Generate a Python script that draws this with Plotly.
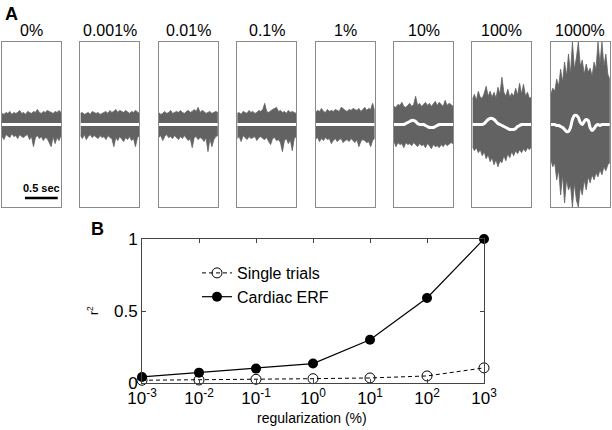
import plotly.graph_objects as go

# ---------------- data ----------------
panel_labels = ["0%", "0.001%", "0.01%", "0.1%", "1%", "10%", "100%", "1000%"]

sample_times = [0.0, 0.03, 0.06, 0.09, 0.12, 0.15, 0.18, 0.21, 0.24, 0.27, 0.30,
                0.33, 0.36, 0.39, 0.42, 0.45, 0.48, 0.51, 0.54, 0.57, 0.60,
                0.63, 0.66, 0.69, 0.72, 0.75, 0.78, 0.81, 0.84, 0.87, 0.90]

# upper / lower envelopes of single-trial traces
upper_env = [
    [11, 10, 12, 11, 13, 10, 12, 11, 12, 14, 11, 12, 10, 13, 12, 11, 13, 12, 15, 12, 11, 13, 12, 14, 13, 12, 11, 13, 12, 14, 12],
    [11, 12, 10, 11, 12, 10, 13, 12, 11, 12, 10, 11, 12, 13, 11, 14, 12, 13, 15, 12, 14, 13, 12, 14, 12, 11, 13, 12, 14, 12, 11],
    [12, 10, 11, 13, 11, 12, 14, 11, 12, 13, 12, 14, 12, 11, 13, 14, 12, 13, 15, 13, 17, 12, 14, 13, 11, 12, 13, 11, 12, 13, 12],
    [11, 12, 10, 13, 12, 11, 14, 12, 13, 11, 12, 14, 13, 15, 21, 13, 12, 14, 15, 16, 17, 13, 14, 12, 13, 11, 14, 12, 13, 12, 11],
    [12, 14, 13, 16, 13, 12, 15, 13, 14, 13, 15, 14, 13, 17, 16, 14, 13, 15, 14, 16, 15, 14, 16, 13, 15, 17, 14, 16, 15, 21, 14],
    [18, 17, 20, 19, 22, 18, 17, 19, 21, 18, 20, 28, 19, 21, 18, 20, 22, 19, 21, 18, 20, 23, 19, 22, 20, 18, 24, 19, 21, 20, 18],
    [25, 30, 24, 33, 27, 26, 31, 38, 28, 33, 27, 32, 26, 37, 30, 47, 32, 28, 35, 27, 31, 28, 36, 29, 41, 30, 40, 28, 32, 26, 27],
    [30, 36, 33, 45, 38, 55, 42, 62, 48, 70, 50, 82, 55, 66, 82, 58, 64, 50, 60, 52, 56, 48, 62, 55, 82, 60, 82, 58, 70, 50, 45],
]
lower_env = [
    [-12, -15, -10, -11, -13, -9, -12, -11, -14, -10, -12, -13, -11, -10, -15, -12, -22, -13, -11, -14, -12, -16, -13, -14, -18, -22, -12, -19, -13, -16, -11],
    [-11, -14, -10, -15, -12, -10, -13, -11, -12, -14, -11, -13, -12, -15, -11, -13, -14, -22, -13, -16, -12, -14, -17, -13, -15, -12, -16, -14, -22, -13, -11],
    [-13, -11, -16, -12, -10, -13, -12, -14, -11, -13, -15, -12, -14, -11, -13, -16, -14, -23, -13, -12, -15, -13, -14, -17, -13, -27, -14, -22, -15, -12, -11],
    [-14, -12, -17, -11, -13, -15, -12, -14, -13, -12, -16, -13, -12, -14, -15, -13, -17, -20, -14, -13, -16, -15, -18, -27, -16, -14, -19, -15, -26, -14, -12],
    [-15, -13, -17, -14, -16, -13, -15, -14, -19, -16, -14, -17, -15, -14, -18, -16, -15, -17, -14, -16, -18, -15, -22, -17, -15, -16, -18, -17, -22, -16, -14],
    [-17, -22, -18, -20, -19, -23, -18, -20, -19, -21, -18, -20, -22, -19, -21, -20, -23, -19, -21, -24, -20, -22, -21, -23, -20, -22, -19, -21, -20, -18, -19],
    [-22, -26, -23, -28, -25, -31, -27, -34, -30, -37, -33, -40, -35, -42, -36, -38, -31, -36, -29, -33, -27, -31, -26, -29, -25, -28, -24, -27, -23, -25, -22],
    [-35, -42, -38, -55, -45, -70, -50, -78, -55, -65, -60, -82, -58, -75, -82, -62, -70, -55, -65, -52, -58, -50, -55, -48, -52, -45, -50, -42, -46, -40, -38],
]
# average (cardiac ERF) trace
mean_trace = [
    [0, 0, 0, 0, 0, 0, 0, 0, 0, 0, 0, 0, 0, 0, 0, 0, 0, 0, 0, 0, 0, 0, 0, 0, 0, 0, 0, 0, 0, 0, 0],
    [0, 0, 0, 0, 0, 0, 0, 0, 0, 0, 0, 0, 0, 0, 0, 0, 0, 0, 0, 0, 0, 0, 0, 0, 0, 0, 0, 0, 0, 0, 0],
    [0, 0, 0, 0, 0, 0, 0, 0, 0, 0, 0, 0, 0, 0, 0, 0, 0, 0, 0, 0, 0, 0, 0, 0, 0, 0, 0, 0, 0, 0, 0],
    [0, 0, 0, 0, 0, 0, 0, 0, 0, 0, 0, 0, 0, 0, 0, 0, 0, 0, 0, 0, 0, 0, 0, 0, 0, 0, 0, 0, 0, 0, 0],
    [0, 0, 0, 0, 0, 0, 0, 0, 0, 0, 0, 0, 0, 0, 0, 0, 0, 0, 0, 0, 0, 0, 0, 0, 0, 0, 0, 0, 0, 0, 0],
    [0, 0, 0, 0, 0, 0, 1, 2, 3, 4, 4, 3, 1, 0, 0, 0, -1, -2, -3, -3, -3, -2, -1, 0, 0, 0, 0, 0, 0, 0, 0],
    [0, 0, 0, 0, 0, 0, 1, 3, 5, 6, 6, 5, 3, 1, 0, -1, -2, -3, -4, -5, -5, -5, -4, -2, -1, 0, 0, 0, 0, 0, 0],
    [0, 0, 0, -1, -1, -2, -3, -5, -7, -7, -3, 5, 9, 9, 7, 2, 0, 3, 5, 4, -3, -6, -4, -1, 0, -1, 0, 0, 0, 0, 0],
]

reg_x = [1e-3, 1e-2, 1e-1, 1e0, 1e1, 1e2, 1e3]
single_trials = [0.019, 0.021, 0.026, 0.030, 0.035, 0.049, 0.105]
cardiac_erf = [0.042, 0.072, 0.100, 0.135, 0.300, 0.590, 1.000]
xtick_vals = [1e-3, 1e-2, 1e-1, 1e0, 1e1, 1e2, 1e3]
xtick_text = ["10<sup>-3</sup>", "10<sup>-2</sup>", "10<sup>-1</sup>", "10<sup>0</sup>",
              "10<sup>1</sup>", "10<sup>2</sup>", "10<sup>3</sup>"]
ytick_vals = [0, 0.5, 1]
ytick_text = ["0", "0.5", "1"]

# ---------------- figure ----------------
W, H = 612, 430
FONT = "Liberation Sans, Arial, sans-serif"
fig = go.Figure()
layout = {}

box_top, box_bot = 42, 207
for i in range(8):
    ax = "" if i == 0 else str(i + 1)
    left = 2 + 78.4 * i
    xd = [left / W, (left + 59) / W]
    yd = [1 - box_bot / H, 1 - box_top / H]
    t = sample_times
    fig.add_trace(go.Scatter(
        x=t + t[::-1], y=upper_env[i] + lower_env[i][::-1],
        fill="toself", fillcolor="#626262", mode="lines",
        line=dict(color="#626262", width=0.8),
        xaxis="x" + ax, yaxis="y" + ax, showlegend=False, hoverinfo="skip"))
    fig.add_trace(go.Scatter(
        x=t, y=mean_trace[i], mode="lines",
        line=dict(color="white", width=3, shape="spline"),
        xaxis="x" + ax, yaxis="y" + ax, showlegend=False, hoverinfo="skip"))
    layout["xaxis" + ax] = dict(domain=xd, range=[0, 0.9], showgrid=False, zeroline=False,
                                showticklabels=False, ticks="", showline=True, mirror=True,
                                linecolor="#8a8a8a", linewidth=1, anchor="y" + ax,
                                fixedrange=True, automargin=False)
    layout["yaxis" + ax] = dict(domain=yd, range=[-82, 82], showgrid=False, zeroline=False,
                                showticklabels=False, ticks="", showline=True, mirror=True,
                                linecolor="#8a8a8a", linewidth=1, anchor="x" + ax,
                                fixedrange=True, automargin=False)

annotations = []
for i, lab in enumerate(panel_labels):
    left = 2 + 78.4 * i
    annotations.append(dict(text=lab, x=(left + 29.5) / W, y=1 - 30 / H, xref="paper", yref="paper",
                            showarrow=False, font=dict(size=16, color="black", family=FONT),
                            xanchor="center", yanchor="middle"))

# scale bar in first panel
fig.add_shape(type="line", x0=0.35, x1=0.85, y0=-73, y1=-73, xref="x", yref="y",
              line=dict(color="black", width=2.5))
annotations.append(dict(text="<b>0.5 sec</b>", x=0.60, y=-63, xref="x", yref="y", showarrow=False,
                        font=dict(size=11, color="black", family=FONT), xanchor="center", yanchor="middle"))

# panel B
fig.add_trace(go.Scatter(x=reg_x, y=single_trials, name="Single trials", mode="lines+markers",
                         line=dict(color="black", width=1, dash="4px,3px"),
                         marker=dict(symbol="circle-open", size=10, color="black", line=dict(width=1)),
                         xaxis="x9", yaxis="y9", cliponaxis=False))
fig.add_trace(go.Scatter(x=reg_x, y=cardiac_erf, name="Cardiac ERF", mode="lines+markers",
                         line=dict(color="black", width=1.2),
                         marker=dict(symbol="circle", size=10, color="black"),
                         xaxis="x9", yaxis="y9", cliponaxis=False))
layout["xaxis9"] = dict(domain=[142 / W, 484 / W], type="log", range=[-3, 3], tickvals=xtick_vals,
                        ticktext=xtick_text, ticks="inside", ticklen=4, tickcolor="#444",
                        showline=True, mirror="ticks", linecolor="#444", linewidth=1,
                        showgrid=False, zeroline=False, anchor="y9", automargin=False,
                        tickfont=dict(size=17, color="black", family=FONT))
layout["yaxis9"] = dict(domain=[1 - 383 / H, 1 - 239 / H], range=[0, 1], tickvals=ytick_vals,
                        ticktext=ytick_text, ticks="inside", ticklen=4, tickcolor="#444",
                        showline=True, mirror="ticks", linecolor="#444", linewidth=1,
                        showgrid=False, zeroline=False, anchor="x9", automargin=False,
                        tickfont=dict(size=17, color="black", family=FONT))

annotations.append(dict(text="regularization (%)", x=312 / W, y=1 - 418 / H, xref="paper", yref="paper",
                        showarrow=False, font=dict(size=14, color="black", family=FONT),
                        xanchor="center", yanchor="middle"))
annotations.append(dict(text="r<sup>2</sup>", x=93 / W, y=1 - 310 / H, xref="paper", yref="paper",
                        showarrow=False, textangle=-90, font=dict(size=12, color="black", family=FONT),
                        xanchor="center", yanchor="middle"))
annotations.append(dict(text="<b>A</b>", x=3 / W, y=1 - 14 / H, xref="paper", yref="paper",
                        showarrow=False, font=dict(size=18, color="black", family=FONT),
                        xanchor="left", yanchor="middle"))
annotations.append(dict(text="<b>B</b>", x=89 / W, y=1 - 229 / H, xref="paper", yref="paper",
                        showarrow=False, font=dict(size=18, color="black", family=FONT),
                        xanchor="left", yanchor="middle"))

fig.update_layout(
    width=W, height=H, autosize=False,
    margin=dict(l=0, r=0, t=0, b=0, pad=0, autoexpand=False),
    paper_bgcolor="white", plot_bgcolor="white",
    showlegend=True,
    legend=dict(x=197 / W, y=1 - 256 / H, xanchor="left", yanchor="top",
                bgcolor="rgba(0,0,0,0)", font=dict(size=16, color="black", family=FONT),
                tracegroupgap=0, itemwidth=30),
    annotations=annotations,
    **layout,
)

fig.write_html("out.html", config={"displayModeBar": False},
               post_script="document.body.style.margin='0';document.body.style.overflow='hidden';")
